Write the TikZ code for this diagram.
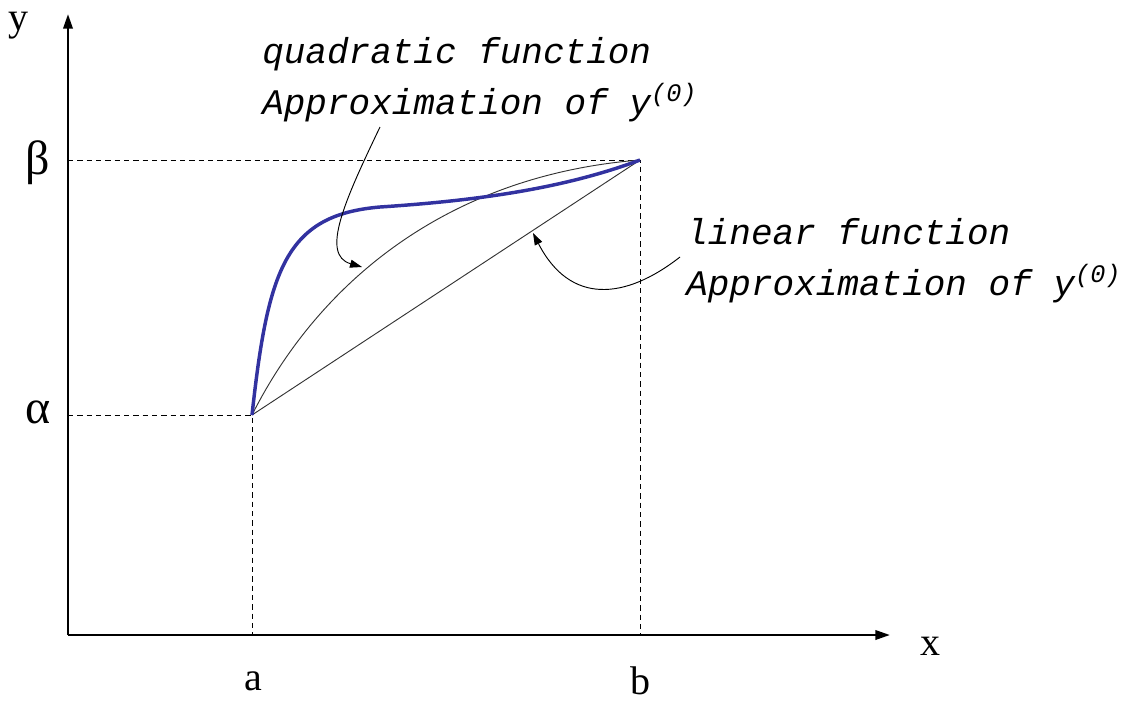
\documentclass[tikz,border=0pt]{standalone}
\usepackage{fontspec}
\setmonofont{Liberation Mono}
\setmainfont{Liberation Serif}
\usetikzlibrary{arrows.meta}
\definecolor{curveblue}{RGB}{50,50,160}
\begin{document}
\begin{tikzpicture}[x=0.75pt,y=-0.75pt,
  axis/.style={line width=1.9pt,-{Triangle[length=11pt,width=7pt]}},
  guide/.style={line width=0.6pt,dash pattern=on 4pt off 3pt},
  thin/.style={line width=0.7pt,draw=black!80},
  note/.style={line width=0.7pt,-{Triangle[length=9pt,width=6pt]}},
  lbl/.style={font=\fontsize{27}{30}\selectfont\ttfamily\itshape,anchor=base west,inner sep=0pt},
  axl/.style={font=\fontsize{30}{32}\selectfont,inner sep=0pt},
  grk/.style={font=\fontsize{36}{38}\selectfont,inner sep=0pt}]
\useasboundingbox (0,0) rectangle (1134,704);
\coordinate (O) at (68,635);
\coordinate (Ytop) at (68,14);
\coordinate (Xend) at (890,635);
\coordinate (A) at (252,415);
\coordinate (B) at (640,160);
\coordinate (Ab) at (252,635);
\coordinate (Bb) at (640,635);
\coordinate (Ay) at (68,415);
\coordinate (By) at (68,160);
\draw[axis] (O) -- (Ytop);
\draw[axis] (O) -- (Xend);
\draw[guide] (Ay) -- (A) -- (Ab);
\draw[guide] (By) -- (B) -- (Bb);
\draw[thin] (A) -- (B);
\draw[thin] (A) .. controls (320,280) and (450,175) .. (B);
\draw[curveblue,line width=2.6pt] (A) .. controls (268,270) and (285,215) .. (380,207) .. controls (470,201) and (560,190) .. (B);
\node[axl] (ylab) at (18,26) {y};
\node[axl] (xlab) at (930,646) {x};
\node[grk] (beta) at (38,163) {β};
\node[grk] (alpha) at (38,412) {α};
\node[axl] (alab) at (253,681) {a};
\node[axl] (blab) at (640,681) {b};
\node[lbl] (q1) at (262,63) {quadratic function};
\node[lbl] (q2) at (262,114) {Approximation of y\textsuperscript{(0)}};
\node[lbl] (l1) at (686,244) {linear function};
\node[lbl] (l2) at (686,295) {Approximation of y\textsuperscript{(0)}};
\coordinate (qs) at (380,127);
\coordinate (qe) at (362,267);
\coordinate (ls) at (680,257);
\coordinate (le) at (533,233);
\draw[note] (qs) .. controls (345,200) and (320,255) .. (qe);
\draw[note] (ls) .. controls (625,300) and (570,305) .. (le);
\end{tikzpicture}
\end{document}
